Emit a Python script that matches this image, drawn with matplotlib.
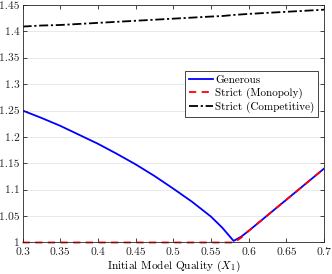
import numpy as np
import matplotlib
matplotlib.use("Agg")
import matplotlib.pyplot as plt

plt.rcParams['font.family'] = 'cmr10'
plt.rcParams['mathtext.fontset'] = 'cm'
plt.rcParams['axes.formatter.use_mathtext'] = True

# values
x_quality = [0.3, 0.325, 0.35, 0.375, 0.4, 0.425, 0.45, 0.475, 0.5, 0.525, 0.55, 0.565,
             0.58, 0.59, 0.6, 0.65, 0.7]
generous = [1.25, 1.236, 1.221, 1.204, 1.187, 1.168, 1.148, 1.126, 1.102, 1.077, 1.049, 1.028,
            1.003, 1.011, 1.022, 1.081, 1.14]
strict_mono = [1.0, 1.0, 1.0, 1.0, 1.0, 1.0, 1.0, 1.0, 1.0, 1.0, 1.0, 1.0,
               1.0, 1.009, 1.022, 1.081, 1.14]
strict_comp = [1.409, 1.411, 1.412, 1.414, 1.416, 1.418, 1.420, 1.422, 1.424, 1.426, 1.428, 1.429,
               1.431, 1.432, 1.433, 1.437, 1.441]

x_ticks = [0.3, 0.35, 0.4, 0.45, 0.5, 0.55, 0.6, 0.65, 0.7]
y_ticks = [1, 1.05, 1.1, 1.15, 1.2, 1.25, 1.3, 1.35, 1.4, 1.45]

fig = plt.figure(figsize=(3.32, 2.74), dpi=100)
ax = fig.add_axes([0.068, 0.115, 0.908, 0.867])

ax.plot(x_quality, generous, color='#0000ff', lw=1.3, label='Generous')
ax.plot(x_quality, strict_mono, color='#ff0000', lw=1.3, ls=(0, (4, 3)), label='Strict (Monopoly)',
        clip_on=False)
ax.plot(x_quality, strict_comp, color='black', lw=1.3, ls=(0, (5, 1.5, 1.2, 1.5)),
        label='Strict (Competitive)')

ax.set_xlim(0.3, 0.7)
ax.set_ylim(1, 1.45)
ax.set_xticks(x_ticks)
ax.set_yticks(y_ticks)
ax.set_xticklabels(['%g' % t for t in x_ticks])
ax.set_yticklabels(['%g' % t for t in y_ticks])
ax.tick_params(direction='in', top=True, right=True, length=3, width=0.6,
               labelsize=8.3, colors='#262626')
ax.tick_params(axis='x', pad=3.5)
ax.tick_params(axis='y', pad=2)
ax.grid(axis='y', color='#e6e6e6', lw=0.6)
ax.set_axisbelow(True)
for s in ax.spines.values():
    s.set_linewidth(0.6)
    s.set_color('#262626')

ax.set_xlabel('Initial Model Quality ($X_1$)', fontsize=8.2, labelpad=1)

leg = ax.legend(loc='upper left', bbox_to_anchor=(0.54, 0.72), fontsize=8,
                handlelength=2.2, handletextpad=0.2, borderpad=0.3,
                labelspacing=0.28, borderaxespad=0, fancybox=False, framealpha=1)
leg.get_frame().set_edgecolor('#262626')
leg.get_frame().set_linewidth(0.6)

fig.savefig('out.png', dpi=100)
